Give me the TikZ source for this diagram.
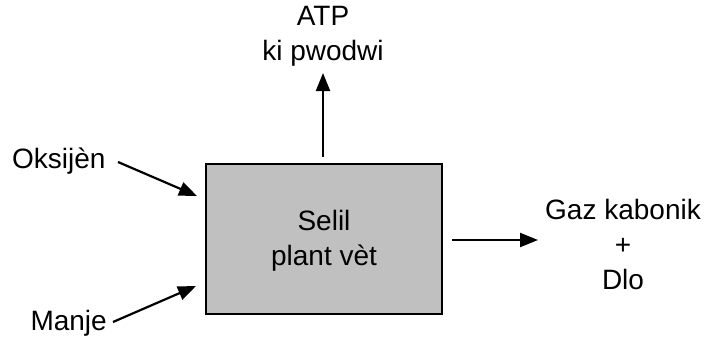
\documentclass[tikz,border=0pt]{standalone}
\usepackage{fontspec}
\setmainfont{Liberation Sans}
\usetikzlibrary{arrows.meta}
\begin{document}
\begin{tikzpicture}[x=1pt,y=-1pt,
  lbl/.style={font=\fontsize{28}{35}\selectfont, align=center, inner sep=0pt},
  arr/.style={line width=2.2pt, -{Triangle[length=18pt,width=14pt]}},
  cell/.style={draw=black, line width=2.2pt, fill={rgb,255:red,192;green,192;blue,192}, minimum width=236pt, minimum height=150pt, inner sep=0pt}]
\useasboundingbox (0,0) rectangle (708,343);
\node[cell] (box) at (324,239) {};
\node[lbl] (boxt) at (324,241) {Selil\\plant vèt};
\node[lbl] (atp) at (323,36) {ATP\\ki pwodwi};
\node[lbl, anchor=west] (oks) at (12,161) {Oksijèn};
\node[lbl, anchor=east] (man) at (107,323) {Manje};
\node[lbl] (gaz) at (623,244) {Gaz kabonik\\+\\Dlo};
\coordinate (upS) at (323,157);
\coordinate (upT) at (323,73);
\coordinate (oS) at (118,162);
\coordinate (oT) at (197,196);
\coordinate (mS) at (113,322);
\coordinate (mT) at (196,286);
\coordinate (rS) at (452,240);
\coordinate (rT) at (538,240);
\draw[arr] (upS) -- (upT);
\draw[arr] (oS) -- (oT);
\draw[arr] (mS) -- (mT);
\draw[arr] (rS) -- (rT);
\end{tikzpicture}
\end{document}
